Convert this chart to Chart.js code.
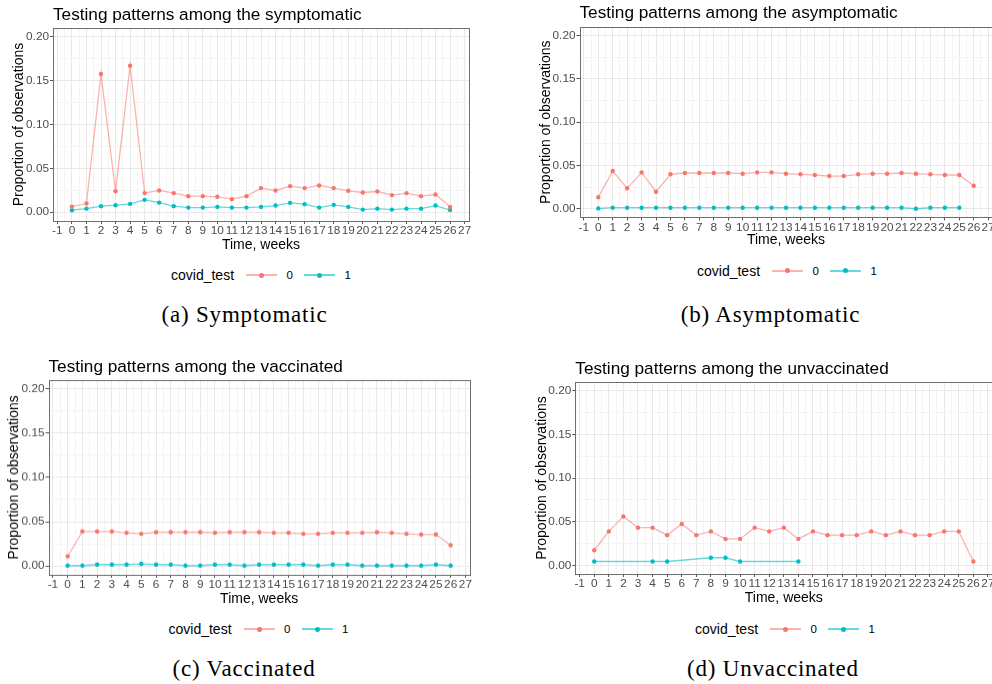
<!DOCTYPE html>
<html lang="en">
<head>
<meta charset="utf-8">
<title>Testing patterns</title>
<script src="https://cdn.jsdelivr.net/npm/chart.js@4.4.1/dist/chart.umd.min.js"></script>
<style>
  html, body { margin: 0; padding: 0; background: #fff; }
  body { position: relative; width: 992px; height: 684px; overflow: hidden; font-family: "Liberation Sans", Arial, sans-serif; }
  .chart-box { position: absolute; }
  .plot-title { position: absolute; font-size: 17.2px; line-height: 1; white-space: nowrap; color: #000; }
  .legend { position: absolute; height: 16px; width: 200px; color: #000; }
  .legend span { position: absolute; top: 0; line-height: 16px; white-space: nowrap; }
  .legend .ltitle { font-size: 14px; }
  .legend .llabel { font-size: 11.5px; }
  .legend .key { width: 31px; height: 16px; }
  .key .seg { position: absolute; left: 0; right: 0; top: 7px; height: 2px; }
  .key .dot { position: absolute; left: 13px; top: 5.5px; width: 5px; height: 5px; border-radius: 50%; }
  .caption { position: absolute; width: 300px; text-align: center; font-family: "Liberation Serif", "Times New Roman", serif; font-size: 23px; letter-spacing: 0.8px; line-height: 24px; color: #000; }
</style>
</head>
<body>
<script>
  // weekly share of observations, split by covid_test (0 / 1)
  const weeks = [0, 1, 2, 3, 4, 5, 6, 7, 8, 9, 10, 11, 12, 13, 14, 15, 16, 17, 18, 19, 20, 21, 22, 23, 24, 25, 26];
  const weekTicks = [-1, 0, 1, 2, 3, 4, 5, 6, 7, 8, 9, 10, 11, 12, 13, 14, 15, 16, 17, 18, 19, 20, 21, 22, 23, 24, 25, 26, 27];
  const propTicks = [0, 0.05, 0.1, 0.15, 0.2];
  const propTickLabels = ["0.00", "0.05", "0.10", "0.15", "0.20"];
  const testGroups = ["0", "1"];

  const sympTest0 = [0.0064, 0.0099, 0.1575, 0.024, 0.167, 0.0218, 0.0248, 0.0218, 0.0183, 0.0183, 0.0176, 0.0149, 0.0183, 0.0275, 0.0248, 0.0298, 0.0275, 0.0305, 0.0275, 0.0244, 0.0225, 0.0236, 0.0195, 0.0218, 0.0183, 0.0202, 0.0061];
  const sympTest1 = [0.0023, 0.0041, 0.0069, 0.008, 0.0095, 0.0141, 0.011, 0.0069, 0.0053, 0.0053, 0.0061, 0.0053, 0.0053, 0.0061, 0.0076, 0.0107, 0.0092, 0.0053, 0.0084, 0.0061, 0.003, 0.0041, 0.003, 0.0041, 0.0041, 0.0076, 0.0025];

  const asympTest0 = [0.0132, 0.0436, 0.0236, 0.042, 0.0197, 0.0398, 0.0413, 0.0413, 0.0413, 0.0413, 0.0405, 0.042, 0.042, 0.0405, 0.0398, 0.039, 0.0378, 0.0378, 0.0398, 0.0405, 0.0405, 0.0413, 0.0405, 0.0398, 0.039, 0.039, 0.0266];
  const asympTest1Weeks = [0, 1, 2, 3, 4, 5, 6, 7, 8, 9, 10, 11, 12, 13, 14, 15, 16, 17, 18, 19, 20, 21, 22, 23, 24, 25];
  const asympTest1 = [0.0004, 0.0012, 0.0012, 0.0012, 0.0012, 0.0012, 0.0012, 0.0012, 0.0012, 0.0012, 0.0012, 0.0012, 0.0012, 0.0012, 0.0012, 0.0012, 0.0012, 0.0012, 0.0012, 0.0012, 0.0012, 0.0012, 0.0, 0.0012, 0.0012, 0.0012];

  const vaccTest0 = [0.0109, 0.0389, 0.0389, 0.0389, 0.0374, 0.0363, 0.0381, 0.0381, 0.0381, 0.0381, 0.0374, 0.0381, 0.0381, 0.0381, 0.0374, 0.0374, 0.0363, 0.0363, 0.0374, 0.0374, 0.0374, 0.0381, 0.0374, 0.0363, 0.0355, 0.0355, 0.0234];
  const vaccTest1 = [0.0004, 0.0004, 0.0015, 0.0015, 0.0015, 0.0023, 0.0015, 0.0015, 0.0004, 0.0004, 0.0015, 0.0015, 0.0004, 0.0015, 0.0015, 0.0015, 0.0015, 0.0004, 0.0015, 0.0015, 0.0004, 0.0004, 0.0004, 0.0004, 0.0004, 0.0015, 0.0004];

  const unvaccTest0 = [0.0172, 0.0388, 0.056, 0.0431, 0.0431, 0.0345, 0.0474, 0.0345, 0.0388, 0.0302, 0.0302, 0.0431, 0.0388, 0.0431, 0.0302, 0.0388, 0.0345, 0.0345, 0.0345, 0.0388, 0.0345, 0.0388, 0.0345, 0.0345, 0.0388, 0.0388, 0.0043];
  const unvaccTest1Weeks = [0, 4, 5, 8, 9, 10, 14];
  const unvaccTest1 = [0.0043, 0.0043, 0.0043, 0.0086, 0.0086, 0.0043, 0.0043];

  const pointColors = ["#F8766D", "#00BFC4"];
  const lineColors = ["rgba(248,118,109,0.55)", "rgba(0,191,196,0.6)"];

  // each panel: where the canvas sits and how wide the axis strips are
  const panels = [
    {
      title: "Testing patterns among the symptomatic", caption: "(a) Symptomatic",
      box: { left: 0, top: 19, width: 496, height: 235 }, yAxisW: 53, xAxisH: 33, padRight: 27, yTitlePad: 10.6,
      titleAt: [53, 6.1], legendAt: [171, 267], captionAt: [244.5, 303],
      series: [[weeks, sympTest0], [weeks, sympTest1]],
    },
    {
      title: "Testing patterns among the asymptomatic", caption: "(b) Asymptomatic",
      box: { left: 496, top: 18, width: 510, height: 231 }, yAxisW: 83.5, xAxisH: 31.6, padRight: 13.5, yTitlePad: 41.6,
      titleAt: [579.5, 3.7], legendAt: [697, 262.7], captionAt: [770.5, 303],
      series: [[weeks, asympTest0], [asympTest1Weeks, asympTest1]],
    },
    {
      title: "Testing patterns among the vaccinated", caption: "(c) Vaccinated",
      box: { left: 0, top: 371.2, width: 496, height: 235.5 }, yAxisW: 48.5, xAxisH: 32.6, padRight: 26.2, yTitlePad: 6.1,
      titleAt: [48.5, 358.1], legendAt: [168.5, 621.3], captionAt: [244, 657],
      series: [[weeks, vaccTest0], [weeks, vaccTest1]],
    },
    {
      title: "Testing patterns among the unvaccinated", caption: "(d) Unvaccinated",
      box: { left: 496, top: 373, width: 510, height: 233.4 }, yAxisW: 79.3, xAxisH: 32.4, padRight: 13.7, yTitlePad: 37.6,
      titleAt: [575.3, 360.4], legendAt: [695, 621.3], captionAt: [773, 657],
      series: [[weeks, unvaccTest0], [unvaccTest1Weeks, unvaccTest1]],
    },
  ];

  // major breaks plus the minor ones halfway between them
  function withMinors(majors) {
    const out = [];
    majors.forEach((v, i) => {
      out.push(v);
      if (i < majors.length - 1) out.push((v + majors[i + 1]) / 2);
    });
    return out;
  }
  const xGrid = withMinors(weekTicks);
  const yGrid = withMinors(propTicks);
  const findTick = (list, v) => list.findIndex((t) => Math.abs(t - v) < 1e-9);

  const frameBorder = {
    id: "frameBorder",
    afterDraw(chart) {
      const { ctx, chartArea } = chart;
      ctx.save();
      ctx.strokeStyle = "#6e6e6e";
      ctx.lineWidth = 1;
      ctx.strokeRect(Math.round(chartArea.left) + 0.5, Math.round(chartArea.top) + 0.5,
        Math.round(chartArea.right - chartArea.left), Math.round(chartArea.bottom - chartArea.top));
      ctx.restore();
    },
  };

  const tickFont = { family: "'Liberation Sans', Arial, sans-serif", size: 11.8 };
  const titleFont = { family: "'Liberation Sans', Arial, sans-serif", size: 14 };

  function gridOptions(list) {
    return {
      color: (ctx) => findTick(list, ctx.tick.value) >= 0 ? "#e8e8e8" : "#f4f4f4",
      lineWidth: 1,
      drawTicks: true,
      tickLength: 3,
      tickColor: (ctx) => findTick(list, ctx.tick.value) >= 0 ? "#555555" : "rgba(0,0,0,0)",
      tickWidth: 1,
    };
  }

  function buildChart(panel) {
    const box = document.createElement("div");
    box.className = "chart-box";
    box.style.left = panel.box.left + "px";
    box.style.top = panel.box.top + "px";
    box.style.width = panel.box.width + "px";
    box.style.height = panel.box.height + "px";
    const canvas = document.createElement("canvas");
    box.appendChild(canvas);
    document.body.appendChild(box);

    new Chart(canvas, {
      type: "line",
      data: {
        datasets: panel.series.map(([xs, ys], i) => ({
          label: testGroups[i],
          data: xs.map((w, j) => ({ x: w, y: ys[j] })),
          borderColor: lineColors[i],
          borderWidth: 1.3,
          pointRadius: 2.2,
          pointBackgroundColor: pointColors[i],
          pointBorderWidth: 0,
          tension: 0,
        })),
      },
      options: {
        responsive: true,
        maintainAspectRatio: false,
        animation: false,
        events: [],
        layout: { padding: { top: 9, right: panel.padRight, bottom: 0, left: 0 } },
        plugins: { legend: { display: false }, tooltip: { enabled: false } },
        scales: {
          x: {
            type: "linear",
            min: -1.3,
            max: 27.3,
            bounds: "data",
            afterBuildTicks: (scale) => { scale.ticks = xGrid.map((v) => ({ value: v })); },
            afterFit: (scale) => { scale.height = panel.xAxisH; },
            ticks: {
              autoSkip: false, maxRotation: 0, minRotation: 0, padding: 0,
              color: "#4d4d4d", font: tickFont,
              callback: (v) => { const k = findTick(weekTicks, v); return k >= 0 ? String(weekTicks[k]) : ""; },
            },
            grid: gridOptions(weekTicks),
            border: { display: false },
            title: { display: true, text: "Time, weeks", color: "#000", font: titleFont, padding: { top: 0, bottom: 0 } },
          },
          y: {
            type: "linear",
            min: -0.01,
            max: 0.21,
            bounds: "data",
            afterBuildTicks: (scale) => { scale.ticks = yGrid.map((v) => ({ value: v })); },
            afterFit: (scale) => { scale.width = panel.yAxisW; },
            ticks: {
              autoSkip: false, padding: 1,
              color: "#4d4d4d", font: tickFont,
              callback: (v) => { const k = findTick(propTicks, v); return k >= 0 ? propTickLabels[k] : ""; },
            },
            grid: gridOptions(propTicks),
            border: { display: false },
            title: { display: true, text: "Proportion of observations", color: "#000", font: titleFont, padding: { top: panel.yTitlePad, bottom: 0 } },
          },
        },
      },
      plugins: [frameBorder],
    });
  }

  function addText(cls, text, left, top) {
    const el = document.createElement("div");
    el.className = cls;
    el.textContent = text;
    el.style.left = left + "px";
    el.style.top = top + "px";
    document.body.appendChild(el);
    return el;
  }

  function buildLegend(panel) {
    const lg = document.createElement("div");
    lg.className = "legend";
    lg.style.left = panel.legendAt[0] + "px";
    lg.style.top = panel.legendAt[1] + "px";
    const title = document.createElement("span");
    title.className = "ltitle";
    title.textContent = "covid_test";
    title.style.left = "0px";
    lg.appendChild(title);
    const keyLeft = [75, 133];
    const labelLeft = [115.5, 173.5];
    testGroups.forEach((g, i) => {
      const key = document.createElement("span");
      key.className = "key";
      key.style.left = keyLeft[i] + "px";
      key.innerHTML = '<i class="seg"></i><i class="dot"></i>';
      key.querySelector(".seg").style.background = lineColors[i];
      key.querySelector(".dot").style.background = pointColors[i];
      lg.appendChild(key);
      const lab = document.createElement("span");
      lab.className = "llabel";
      lab.textContent = g;
      lab.style.left = labelLeft[i] + "px";
      lg.appendChild(lab);
    });
    document.body.appendChild(lg);
  }

  panels.forEach((panel) => {
    buildChart(panel);
    addText("plot-title", panel.title, panel.titleAt[0], panel.titleAt[1]);
    buildLegend(panel);
    addText("caption", panel.caption, panel.captionAt[0] - 150, panel.captionAt[1]);
  });
</script>
</body>
</html>
